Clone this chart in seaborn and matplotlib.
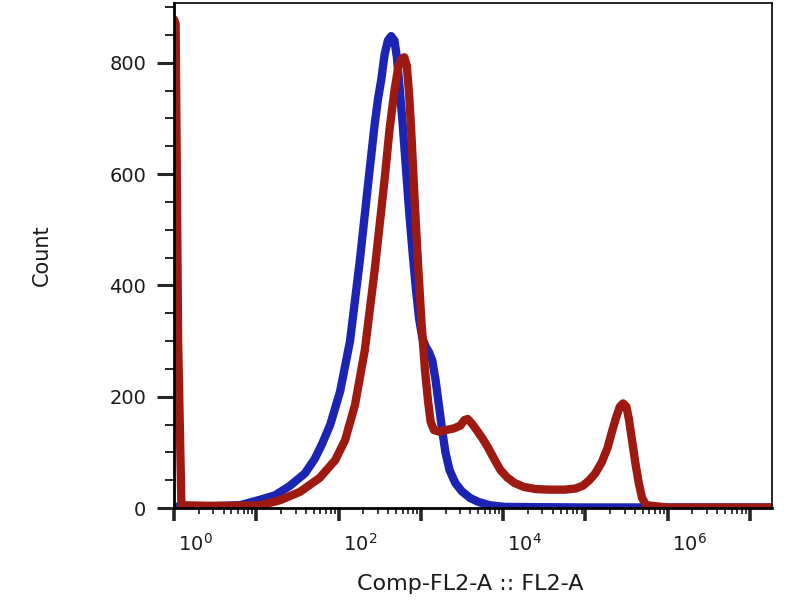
import numpy as np
import pandas as pd
import matplotlib
matplotlib.use("Agg")
import matplotlib.pyplot as plt
import matplotlib.transforms as mtransforms
from matplotlib.ticker import MultipleLocator, LogLocator, FixedLocator, NullFormatter
import seaborn as sns

# log10 of the FL2-A value, and event count
blue_log = [0.05, 0.4, 0.8, 1.05, 1.23, 1.41, 1.59, 1.71, 1.80, 1.90, 2.02, 2.14,
            2.26, 2.38, 2.44, 2.48, 2.52, 2.56, 2.60, 2.64, 2.68, 2.71, 2.74, 2.78,
            2.82, 2.86, 2.90, 2.94, 2.98, 3.02, 3.06, 3.10, 3.14, 3.18, 3.22, 3.26,
            3.30, 3.35, 3.42, 3.50, 3.60, 3.70, 3.84, 4.02, 5.0, 6.0, 7.3]
blue_count = [3, 3, 5, 15, 23, 40, 62, 88, 115, 150, 210, 300,
              446, 610, 690, 735, 770, 815, 840, 848, 840, 810, 760, 690,
              610, 530, 460, 395, 340, 305, 290, 280, 265, 230, 185, 140,
              100, 68, 45, 30, 18, 11, 5, 2, 1, 1, 1]

red_log = [0.0, 0.02, 0.05, 0.09, 0.4, 0.8, 1.05, 1.29, 1.53, 1.77, 1.96, 2.08,
           2.20, 2.32, 2.44, 2.56, 2.62, 2.68, 2.73, 2.77, 2.80, 2.83, 2.86, 2.89,
           2.93, 2.97, 3.01, 3.05, 3.09, 3.12, 3.16, 3.23, 3.30, 3.40, 3.48, 3.53,
           3.57, 3.62, 3.68, 3.75, 3.82, 3.90, 3.97, 4.05, 4.14, 4.25, 4.40, 4.57,
           4.75, 4.88, 4.97, 5.05, 5.12, 5.20, 5.27, 5.33, 5.38, 5.42, 5.46, 5.50,
           5.53, 5.57, 5.61, 5.65, 5.69, 5.74, 6.0, 7.3]
red_count = [878, 870, 300, 5, 4, 4, 5, 14, 29, 54, 86, 122,
             185, 284, 428, 590, 680, 750, 795, 808, 810, 795, 740, 660,
             540, 430, 330, 250, 190, 155, 140, 137, 140, 143, 148, 158,
             160, 152, 140, 125, 108, 86, 68, 55, 45, 38, 34, 33,
             33, 35, 40, 50, 62, 82, 108, 140, 165, 182, 188, 182,
             160, 120, 80, 45, 18, 5, 1, 1]

df = pd.concat([
    pd.DataFrame({"fl2": np.power(10.0, blue_log), "count": blue_count, "sample": "control"}),
    pd.DataFrame({"fl2": np.power(10.0, red_log), "count": red_count, "sample": "stained"}),
])

sns.set_theme(style="ticks")
plt.rcParams['font.family'] = ['DejaVu Sans']

fig = plt.figure(figsize=(8, 6), dpi=100)
ax = fig.add_axes([0.2175, 0.1533, 0.7475, 0.8412])

sns.lineplot(data=df, x="fl2", y="count", hue="sample",
             palette={"control": "#1c24b4", "stained": "#9e1a10"},
             linewidth=6, legend=False, ax=ax, sort=False, estimator=None)
for line in ax.get_lines():
    line.set_solid_joinstyle("round")
    line.set_solid_capstyle("round")

ax.set_xscale("log")
ax.set_xlim(1, 10 ** 7.27)
ax.set_ylim(0, 907)

# y ticks
ax.yaxis.set_major_locator(MultipleLocator(200))
ax.yaxis.set_minor_locator(MultipleLocator(50))
ax.tick_params(axis="y", which="major", length=12, width=2.2, pad=8, labelsize=14, labelcolor="#1a1a1a")
ax.tick_params(axis="y", which="minor", length=6.5, width=1.4)

# x ticks: every decade, labels on even decades
ax.xaxis.set_major_locator(FixedLocator([10.0 ** k for k in range(0, 8)]))
ax.xaxis.set_minor_locator(LogLocator(base=10, subs=np.arange(2, 10), numticks=20))
ax.xaxis.set_minor_formatter(NullFormatter())
ax.set_xticklabels([r"$10^{%d}$" % k if k % 2 == 0 else "" for k in range(0, 8)])
ax.tick_params(axis="x", which="major", length=9, width=2.6, pad=9, labelsize=14, labelcolor="#1a1a1a")
ax.tick_params(axis="x", which="minor", length=4.5, width=1.3)
offset = mtransforms.ScaledTranslation(3 / 72, 0, fig.dpi_scale_trans)
for lbl in ax.get_xticklabels():
    lbl.set_horizontalalignment("left")
    lbl.set_transform(lbl.get_transform() + offset)

for side in ["top", "bottom", "left", "right"]:
    ax.spines[side].set_visible(True)
    ax.spines[side].set_color("black")
    ax.spines[side].set_linewidth(1.2)
ax.spines["bottom"].set_linewidth(2.0)
ax.spines["left"].set_linewidth(2.0)

ax.set_xlabel("Comp-FL2-A :: FL2-A", fontsize=16, color="#1a1a1a")
ax.set_ylabel("Count", fontsize=15, color="#1a1a1a")
ax.xaxis.set_label_coords(0.495, -0.13)
ax.yaxis.set_label_coords(-0.205, 0.5)

fig.savefig("out.png", dpi=100, facecolor="white")
